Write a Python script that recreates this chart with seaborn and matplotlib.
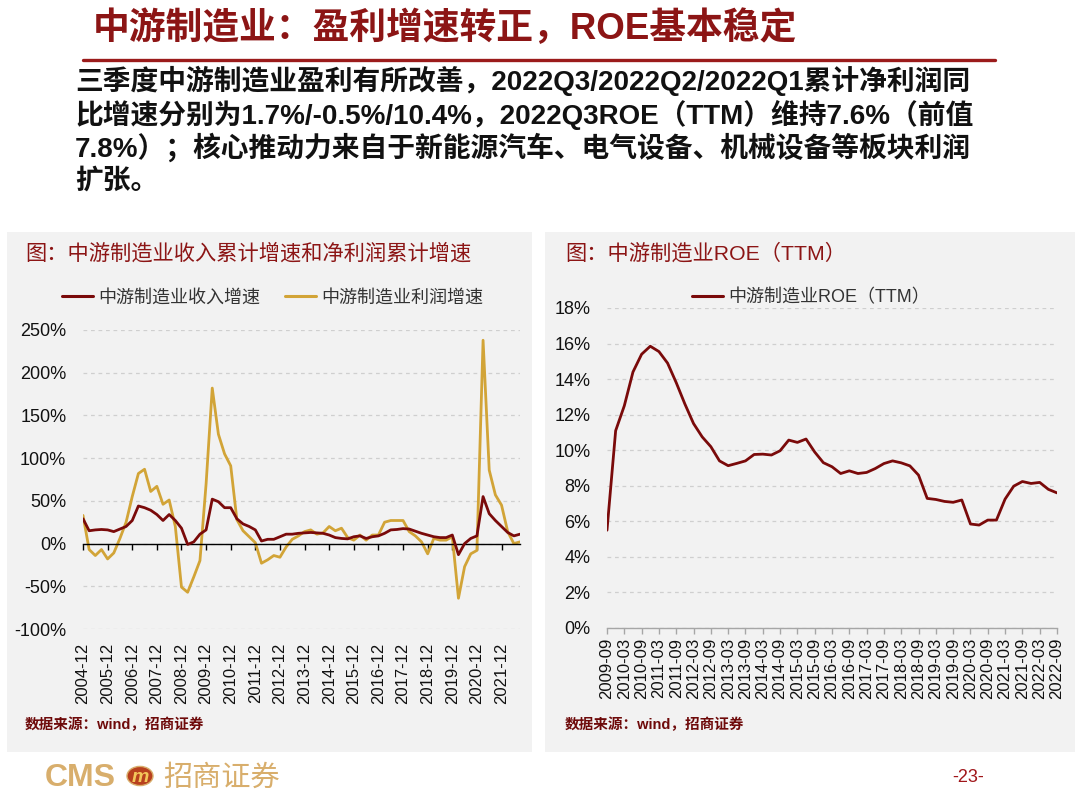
import numpy as np
import pandas as pd
import matplotlib
matplotlib.use('Agg')
import matplotlib.pyplot as plt
import seaborn as sns
from matplotlib.patches import Rectangle, Circle
from matplotlib.lines import Line2D
from matplotlib.ticker import FuncFormatter

# ---- data ----
# quarterly, 2004-12 .. 2022-09 (cumulative yoy, %)
revenue_growth = [29, 15, 16, 16.5, 16, 14, 17, 20, 27, 44,
                  42, 39, 34, 27, 34, 27, 18, -1, 2, 11,
                  16, 52, 49, 42, 42, 29, 23, 20, 16, 3,
                  5, 5, 8, 11, 11, 12, 12.5, 13, 12.5, 12,
                  10, 7, 6, 5.5, 8, 9, 6, 8, 9, 12,
                  16, 16.5, 17.5, 17, 14.5, 12, 10, 8, 7, 7,
                  10, -13, 0, 6, 9, 55, 35, 27, 20, 13,
                  9, 11]
profit_growth = [33, -7, -14, -7, -18, -11, 6, 25, 55, 82,
                 87, 61, 67, 46, 51, 20, -51, -57, -39, -20,
                 70, 182, 128, 105, 91, 28, 15, 8, 1, -23,
                 -19, -14, -16, -4, 5, 9, 14, 16, 11, 12.5,
                 20, 15, 18, 7, 4, 10, 4, 10, 10, 25,
                 27, 27, 27, 14, 9, 2, -12, 6, 4, 4,
                 8, -64, -27, -12, -8, 238, 86, 57, 45, 14,
                 0, 2]
left_ticklabels = ['2004-12', '2005-12', '2006-12', '2007-12', '2008-12', '2009-12',
                   '2010-12', '2011-12', '2012-12', '2013-12', '2014-12', '2015-12',
                   '2016-12', '2017-12', '2018-12', '2019-12', '2020-12', '2021-12']

# quarterly, 2009-09 .. 2022-09 (ROE TTM, %)
roe_ttm = [5.5, 11.1, 12.5, 14.4, 15.4, 15.85, 15.55, 14.9, 13.8, 12.6,
           11.5, 10.75, 10.2, 9.4, 9.13, 9.26, 9.4, 9.76, 9.78, 9.73,
           9.97, 10.57, 10.44, 10.63, 9.9, 9.3, 9.07, 8.69, 8.84, 8.69,
           8.75, 8.97, 9.25, 9.4, 9.29, 9.12, 8.6, 7.29, 7.23, 7.12,
           7.07, 7.2, 5.85, 5.79, 6.07, 6.07, 7.25, 7.98, 8.24, 8.13,
           8.19, 7.8, 7.6]
right_ticklabels = ['2009-09', '2010-03', '2010-09', '2011-03', '2011-09', '2012-03',
                    '2012-09', '2013-03', '2013-09', '2014-03', '2014-09', '2015-03',
                    '2015-09', '2016-03', '2016-09', '2017-03', '2017-09', '2018-03',
                    '2018-09', '2019-03', '2019-09', '2020-03', '2020-09', '2021-03',
                    '2021-09', '2022-03', '2022-09']

series_names = ['中游制造业收入增速', '中游制造业利润增速']
roe_name = '中游制造业ROE（TTM）'

RED = '#7A0A0A'
GOLD = '#D2A437'
TITLE_RED = '#8C1515'
PANEL = '#F2F2F2'
TAN = '#D8AE6C'

sns.set_theme(style='white')
plt.rcParams['font.family'] = ['Liberation Sans', 'Noto Sans CJK SC', 'DejaVu Sans']
plt.rcParams['axes.unicode_minus'] = False

W, H = 1080, 796
fig = plt.figure(figsize=(W / 100, H / 100), dpi=100)


def fx(px):
    return px / W


def fy(py):
    return 1 - py / H


# ---- page header ----
fig.text(fx(93), fy(29), '中游制造业：盈利增速转正，ROE基本稳定', fontsize=26.5,
         fontweight='bold', color=TITLE_RED, va='center', ha='left')
fig.add_artist(Line2D([fx(83), fx(995)], [fy(60), fy(60)], color='#9B1B1B',
                      linewidth=2.4, transform=fig.transFigure))
body = ['三季度中游制造业盈利有所改善，2022Q3/2022Q2/2022Q1累计净利润同',
        '比增速分别为1.7%/-0.5%/10.4%，2022Q3ROE（TTM）维持7.6%（前值',
        '7.8%）；核心推动力来自于新能源汽车、电气设备、机械设备等板块利润',
        '扩张。']
for k, line in enumerate(body):
    fig.text(fx(75), fy(81 + 33.5 * k), line, fontsize=20, fontweight='bold',
             color='#111111', va='center', ha='left')

# ---- panels ----
for x0, x1 in [(7, 532), (545, 1075)]:
    fig.add_artist(Rectangle((fx(x0), fy(752)), fx(x1 - x0), (752 - 232) / H,
                             transform=fig.transFigure, facecolor=PANEL,
                             edgecolor='none', zorder=-1))

fig.text(fx(25), fy(253), '图：中游制造业收入累计增速和净利润累计增速', fontsize=15.3,
         color=TITLE_RED, va='center', ha='left')
fig.text(fx(565), fy(253), '图：中游制造业ROE（TTM）', fontsize=15.3,
         color=TITLE_RED, va='center', ha='left')
for x0 in (25, 565):
    fig.text(fx(x0), fy(725), '数据来源：wind，招商证券', fontsize=10.5,
             fontweight='bold', color='#6E0A0A', va='center', ha='left')

pct = FuncFormatter(lambda v, p: f'{v:.0f}%')

# ---- left chart ----
ax1 = fig.add_axes([fx(83), fy(629), fx(437), 299 / H])
ax1.set_facecolor(PANEL)
df_left = pd.DataFrame({
    'q': list(range(len(revenue_growth))) * 2,
    'value': revenue_growth + profit_growth,
    'series': [series_names[0]] * len(revenue_growth) + [series_names[1]] * len(profit_growth),
})
sns.lineplot(data=df_left, x='q', y='value', hue='series', hue_order=series_names,
             palette=[RED, GOLD], linewidth=2.0, ax=ax1, legend=False)
# revenue drawn on top
ax1.lines[0].set_zorder(3)
ax1.set_xlim(0, len(revenue_growth) - 1)
ax1.set_ylim(-100, 250)
ax1.set_yticks(np.arange(-100, 251, 50))
ax1.yaxis.set_major_formatter(pct)
ax1.set_xlabel('')
ax1.set_ylabel('')
ax1.grid(axis='y', color='#CFCFCF', linestyle=(0, (3, 3)), linewidth=0.9)
ax1.grid(axis='x', visible=False)
for s in ['top', 'right', 'left']:
    ax1.spines[s].set_visible(False)
ax1.spines['bottom'].set_position(('data', 0))
ax1.spines['bottom'].set_color('#000000')
ax1.spines['bottom'].set_linewidth(1.0)
left_pos = [4 * k for k in range(len(left_ticklabels))]
ax1.set_xticks(left_pos)
ax1.tick_params(axis='x', direction='out', length=4, width=1, color='#000000',
                bottom=True, labelbottom=False)
ax1.tick_params(axis='y', length=0, pad=12, labelsize=13, labelcolor='#111111')
sec1 = ax1.secondary_xaxis('bottom')
sec1.set_xticks(left_pos, left_ticklabels, rotation=90)
sec1.spines['bottom'].set_visible(False)
sec1.tick_params(length=0, pad=10, labelsize=12, labelcolor='#111111')
h1 = [Line2D([], [], color=RED, linewidth=2.2), Line2D([], [], color=GOLD, linewidth=2.2)]
ax1.legend(h1, series_names, loc='center', bbox_to_anchor=(0.434, 1.107), ncol=2,
           frameon=False, fontsize=13, handlelength=1.7, handletextpad=0.3,
           columnspacing=1.4, labelcolor='#333333')

# ---- right chart ----
ax2 = fig.add_axes([fx(607), fy(628), fx(450), 320 / H])
ax2.set_facecolor(PANEL)
df_right = pd.DataFrame({'q': range(len(roe_ttm)), 'roe': roe_ttm})
sns.lineplot(data=df_right, x='q', y='roe', color=RED, linewidth=2.0, ax=ax2)
ax2.set_xlim(0, len(roe_ttm) - 1)
ax2.set_ylim(0, 18)
ax2.set_yticks(np.arange(0, 19, 2))
ax2.yaxis.set_major_formatter(pct)
ax2.set_xlabel('')
ax2.set_ylabel('')
ax2.grid(axis='y', color='#CFCFCF', linestyle=(0, (3, 3)), linewidth=0.9)
ax2.grid(axis='x', visible=False)
for s in ['top', 'right', 'left']:
    ax2.spines[s].set_visible(False)
ax2.spines['bottom'].set_color('#A6A6A6')
ax2.spines['bottom'].set_linewidth(1.0)
right_pos = [2 * k for k in range(len(right_ticklabels))]
ax2.set_xticks(right_pos, right_ticklabels, rotation=90)
ax2.tick_params(axis='x', direction='out', length=4, width=1, color='#A6A6A6',
                bottom=True, pad=3, labelsize=12, labelcolor='#111111')
ax2.tick_params(axis='y', length=0, pad=12, labelsize=13, labelcolor='#111111')
ax2.legend([Line2D([], [], color=RED, linewidth=2.2)], [roe_name], loc='center',
           bbox_to_anchor=(0.453, 1.031), frameon=False, fontsize=13,
           handlelength=1.7, handletextpad=0.3, labelcolor='#333333')

# ---- footer ----
fig.text(fx(45), fy(778), 'CMS', fontsize=23, color=TAN, fontweight='bold',
         va='center', ha='left')
fig.add_artist(Circle((fx(140), fy(776)), 13 / W, transform=fig.transFigure,
                      facecolor='#B8401E', edgecolor='#D8AE6C', linewidth=1))
fig.text(fx(140), fy(777), 'm', fontsize=14, color='#F3C65A', fontweight='bold',
         style='italic', va='center', ha='center')
fig.text(fx(163), fy(778), '招商证券', fontsize=21, color=TAN, va='center', ha='left')
fig.text(fx(968), fy(778), '-23-', fontsize=13, color='#A0161A', va='center', ha='center')

fig.savefig('out.png', dpi=100)
